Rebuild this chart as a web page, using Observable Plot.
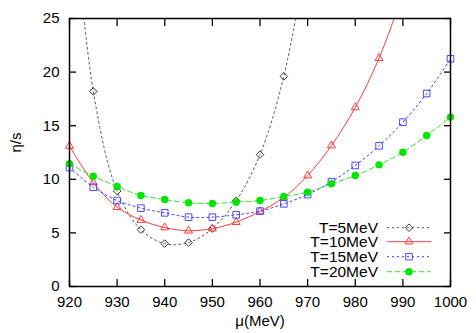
<!DOCTYPE html>
<html><head><meta charset="utf-8">
<script src="https://cdn.jsdelivr.net/npm/d3@7"></script>
<script src="https://cdn.jsdelivr.net/npm/@observablehq/plot@0.6"></script>
<style>
body{margin:0;background:#fff}
#chart svg{font-family:"Liberation Sans",Arial,Helvetica,sans-serif;overflow:visible}
</style>
</head><body><div id="chart"></div>
<script>
// chemical potential (MeV)
const mu = [920, 925, 930, 935, 940, 945, 950, 955, 960, 965, 970, 975, 980, 985, 990, 995, 1000];
// eta/s per temperature (null = not computed / not shown)
const T5  = [39.5, 18.2, 8.9, 5.3, 4.0, 4.1, 5.4, 8.0, 12.3, 19.6, 31.4, null, null, null, null, null, null];
const T10 = [13.1, 9.7, 7.4, 6.2, 5.5, 5.2, 5.4, 6.0, 7.0, 8.3, 10.35, 13.15, 16.7, 21.3, 27.3, null, null];
const T15 = [11.1, 9.26, 8.02, 7.31, 6.87, 6.47, 6.47, 6.69, 7.03, 7.71, 8.58, 9.77, 11.29, 13.12, 15.33, 18.0, 21.24];
const T20 = [11.45, 10.29, 9.33, 8.49, 8.12, 7.81, 7.74, 7.87, 8.02, 8.4, 8.8, 9.58, 10.35, 11.35, 12.53, 14.09, 15.8];
const seriesNames = ["T=5MeV", "T=10MeV", "T=15MeV", "T=20MeV"];
const xTicks = [920, 930, 940, 950, 960, 970, 980, 990, 1000];
const yTicks = [0, 5, 10, 15, 20, 25];

const styles = [
  {values: T5,  stroke: "#555555", dash: "2,3", symbol: "diamond2", fill: "none", r: 3.4, dotStroke: "#333"},
  {values: T10, stroke: "#ff3a3a", dash: null,  symbol: "triangle2", fill: "none", r: 3.8, dotStroke: "#ff3a3a"},
  {values: T15, stroke: "#3a3aff", dash: "2,3", symbol: "square2", fill: "none", r: 4.2, dotStroke: "#4a4aff"},
  {values: T20, stroke: "#33e033", dash: "5,3", symbol: "circle", fill: "#00e600", r: 3.7, dotStroke: "none"}
];

const yMax = 25;
const marks = [];
styles.forEach((s, k) => {
  const data = mu.map((m, i) => ({mu: m, v: s.values[i]})).filter(d => d.v != null);
  marks.push(Plot.line(data, {x: "mu", y: "v", stroke: s.stroke, strokeWidth: 1, strokeDasharray: s.dash, curve: "catmull-rom", clip: true}));
  marks.push(Plot.dot(data.filter(d => d.v <= yMax), {x: "mu", y: "v", symbol: s.symbol, r: s.r, stroke: s.dotStroke, fill: s.fill, strokeWidth: 1}));
});

const W = 476, H = 333, mL = 69, mR = 26, mT = 18, mB = 47;

const plot = Plot.plot({
  width: W, height: H,
  marginLeft: mL, marginRight: mR, marginTop: mT, marginBottom: mB,
  style: {fontSize: "15px", fontFamily: "'Liberation Sans', Arial, sans-serif", color: "black", background: "white"},
  x: {domain: [920, 1000]},
  y: {domain: [0, 25]},
  marks: [
    ...marks,
    Plot.axisX({ticks: xTicks, tickSize: -7, text: null, label: null, strokeWidth: 1.3}),
    Plot.axisX({anchor: "top", ticks: xTicks, tickSize: -7, text: null, label: null, strokeWidth: 1.3}),
    Plot.axisY({ticks: yTicks, tickSize: -7, text: null, label: null, strokeWidth: 1.3}),
    Plot.axisY({anchor: "right", ticks: yTicks, tickSize: -7, text: null, label: null, strokeWidth: 1.3}),
    Plot.axisX({ticks: xTicks, tickSize: 0, tickPadding: 10, fontSize: 15, label: null, tickFormat: d => String(d)}),
    Plot.axisY({ticks: yTicks, tickSize: 0, tickPadding: 10, fontSize: 15, label: null, tickFormat: d => String(d)}),
    Plot.frame({stroke: "black", strokeWidth: 1.5}),
    Plot.text(["μ(MeV)"], {frameAnchor: "bottom", dy: 39, fontSize: 15}),
    Plot.text(["η/s"], {frameAnchor: "left", dx: -53, rotate: -90, fontSize: 15})
  ]
});

// legend inside the frame, bottom-right
const svg = d3.select(plot);
const fr = W - mR, fb = H - mB;
const offs = [58.3, 44.3, 29.3, 14.3];
const g = svg.append("g");
styles.forEach((s, k) => {
  const y = fb - offs[k];
  g.append("text").attr("x", fr - 72).attr("y", y).attr("dy", "0.35em")
    .attr("text-anchor", "end").attr("font-size", 15.5).attr("fill", "black").text(seriesNames[k]);
  g.append("line").attr("x1", fr - 63).attr("x2", fr - 19).attr("y1", y).attr("y2", y)
    .attr("stroke", s.stroke).attr("stroke-width", 1).attr("stroke-dasharray", s.dash);
  const sym = {diamond2: d3.symbolDiamond2, triangle2: d3.symbolTriangle2, square2: d3.symbolSquare2, circle: d3.symbolCircle}[s.symbol];
  g.append("path").attr("transform", `translate(${fr - 41},${y})`)
    .attr("d", d3.symbol(sym, Math.PI * s.r * s.r)())
    .attr("fill", s.fill).attr("stroke", s.dotStroke);
});

document.getElementById("chart").appendChild(plot);
</script>
</body></html>
